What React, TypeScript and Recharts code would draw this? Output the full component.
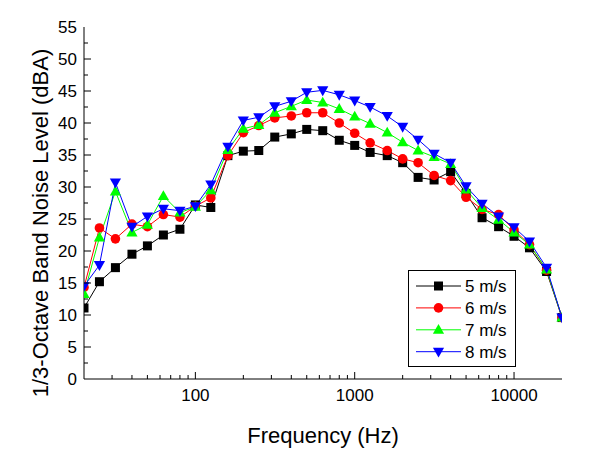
import React from "react";
import { LineChart, Line, XAxis, YAxis, Legend } from "recharts";

// 1/3-octave band centre frequencies (Hz)
const freqs = [
  20, 25, 31.5, 40, 50, 63, 80, 100, 125, 160, 200, 250, 315, 400, 500, 630,
  800, 1000, 1250, 1600, 2000, 2500, 3150, 4000, 5000, 6300, 8000, 10000,
  12500, 16000, 20000,
];

// band levels in dBA, per wind speed
const wind5 = [
  11.1, 15.2, 17.4, 19.5, 20.8, 22.5, 23.4, 27.2, 26.8, 34.9, 35.6, 35.7, 37.8,
  38.3, 39.0, 38.8, 37.3, 36.5, 35.4, 34.9, 33.8, 31.5, 31.1, 32.4, 29.0, 25.2,
  23.8, 22.3, 20.5, 16.8, 9.6,
];
const wind6 = [
  14.3, 23.6, 21.9, 24.2, 23.8, 25.7, 25.3, 27.0, 28.3, 34.9, 38.5, 39.6, 40.8,
  41.1, 41.6, 41.6, 40.0, 38.4, 36.9, 35.7, 34.4, 33.8, 31.8, 31.0, 28.4, 26.5,
  25.7, 23.3, 21.0, 17.0, 9.6,
];
const wind7 = [
  13.3, 22.1, 29.3, 22.9, 24.1, 28.6, 26.0, 26.9, 29.5, 35.8, 39.1, 39.7, 41.6,
  42.6, 43.6, 43.2, 42.2, 41.0, 39.9, 38.5, 37.0, 35.7, 34.7, 33.6, 29.6, 26.7,
  24.9, 22.9, 21.0, 17.1, 9.6,
];
const wind8 = [
  14.5, 17.8, 30.7, 23.8, 25.4, 26.6, 26.3, 27.0, 30.4, 36.3, 40.4, 40.9, 42.6,
  43.4, 44.8, 45.1, 44.4, 43.5, 42.5, 41.1, 39.4, 37.4, 35.2, 33.8, 30.1, 27.4,
  25.4, 23.7, 21.5, 17.4, 9.6,
];

const seriesKeys = ["w5", "w6", "w7", "w8"];
const seriesNames = ["5 m/s", "6 m/s", "7 m/s", "8 m/s"];
const seriesValues = [wind5, wind6, wind7, wind8];

const xTicks = [
  30, 40, 50, 60, 70, 80, 90, 100, 200, 300, 400, 500, 600, 700, 800, 900,
  1000, 2000, 3000, 4000, 5000, 6000, 7000, 8000, 9000, 10000,
];
const xMajor = [100, 1000, 10000];
const yTicks = [
  2.5, 5, 7.5, 10, 12.5, 15, 17.5, 20, 22.5, 25, 27.5, 30, 32.5, 35, 37.5, 40,
  42.5, 45, 47.5, 50, 52.5,
];
const yLabelTicks = [0, 5, 10, 15, 20, 25, 30, 35, 40, 45, 50, 55];

const colors = ["#000000", "#ff0000", "#00ff00", "#0000ff"];
const shapes = ["square", "circle", "up", "down"];
const FONT = "'Liberation Sans', Arial, sans-serif";

const data = freqs.map((f, i) => {
  const row: Record<string, number> = { f };
  seriesKeys.forEach((k, s) => (row[k] = seriesValues[s][i]));
  return row;
});

function Marker({ shape, cx, cy, color }: any) {
  if (shape === "square")
    return <rect x={cx - 4.5} y={cy - 4.5} width={9} height={9} fill={color} />;
  if (shape === "circle") return <circle cx={cx} cy={cy} r={4.8} fill={color} />;
  if (shape === "up")
    return (
      <polygon
        points={`${cx},${cy - 5.8} ${cx + 5.6},${cy + 4} ${cx - 5.6},${cy + 4}`}
        fill={color}
      />
    );
  return (
    <polygon
      points={`${cx},${cy + 5.8} ${cx + 5.6},${cy - 4} ${cx - 5.6},${cy - 4}`}
      fill={color}
    />
  );
}

const BottomTick = ({ x, y, payload }: any) => {
  const major = xMajor.includes(payload.value);
  return (
    <g>
      <line x1={x} x2={x} y1={y} y2={y - (major ? 7 : 4)} stroke="#000" />
      {major && (
        <text x={x} y={y + 22} textAnchor="middle" fontSize={17} fontFamily={FONT} fill="#000">
          {payload.value}
        </text>
      )}
    </g>
  );
};

const TopTick = ({ x, y, payload }: any) => {
  const major = xMajor.includes(payload.value);
  return <line x1={x} x2={x} y1={y} y2={y + (major ? 7 : 4)} stroke="#000" />;
};

const LeftTick = ({ x, y, payload }: any) => {
  const major = payload.value % 5 === 0;
  return (
    <g>
      {payload.value > 0 && payload.value < 55 && (
        <line x1={x} x2={x + (major ? 7 : 4)} y1={y} y2={y} stroke="#000" />
      )}
      {yLabelTicks.includes(payload.value) && (
        <text x={x - 7} y={y + 6} textAnchor="end" fontSize={17} fontFamily={FONT} fill="#000">
          {payload.value}
        </text>
      )}
    </g>
  );
};

const RightTick = ({ x, y, payload }: any) => {
  const major = payload.value % 5 === 0;
  return <line x1={x} x2={x - (major ? 7 : 4)} y1={y} y2={y} stroke="#000" />;
};

const renderLegend = () => (
  <svg width={108} height={97} style={{ display: "block" }}>
    <rect x={0.5} y={0.5} width={107} height={96} fill="#fff" stroke="#000" />
    {seriesNames.map((name, i) => {
      const cy = 16 + i * 21.9;
      return (
        <g key={name}>
          <line x1={8} x2={53} y1={cy} y2={cy} stroke={colors[i]} />
          <Marker shape={shapes[i]} cx={30.5} cy={cy} color={colors[i]} />
          <text x={57} y={cy + 6} fontSize={17} fontFamily={FONT} fill="#000">
            {name}
          </text>
        </g>
      );
    })}
  </svg>
);

export default function App() {
  return (
    <LineChart
      width={574}
      height={446}
      data={data}
      margin={{ top: 19, right: 20, bottom: 0, left: 0 }}
      style={{ fontFamily: FONT }}
    >
      <XAxis
        dataKey="f"
        type="number"
        scale="log"
        domain={[20, 20000]}
        allowDataOverflow
        ticks={xTicks}
        interval={0}
        tick={BottomTick}
        tickLine={false}
        tickSize={0}
        tickMargin={0}
        height={75}
        axisLine={{ stroke: "#000" }}
        label={{
          content: (p: any) => (
            <text
              x={p.viewBox.x + p.viewBox.width / 2}
              y={p.viewBox.y + 64}
              textAnchor="middle"
              fontSize={22}
              fontFamily={FONT}
              fill="#000"
            >
              Frequency (Hz)
            </text>
          ),
        }}
      />
      <XAxis
        xAxisId="top"
        orientation="top"
        dataKey="f"
        type="number"
        scale="log"
        domain={[20, 20000]}
        allowDataOverflow
        ticks={xTicks}
        interval={0}
        tick={TopTick}
        tickLine={false}
        tickSize={0}
        tickMargin={0}
        height={0}
        axisLine={{ stroke: "#000" }}
      />
      <YAxis
        type="number"
        domain={[0, 55]}
        ticks={[0, ...yTicks, 55]}
        interval={0}
        tick={LeftTick}
        tickLine={false}
        tickSize={0}
        tickMargin={0}
        width={76}
        axisLine={{ stroke: "#000" }}
        label={{
          content: () => (
            <text
              x={40}
              y={215}
              transform="rotate(-90, 40, 215)"
              textAnchor="middle"
              fontSize={22}
              fontFamily={FONT}
              fill="#000"
            >
              1/3-Octave Band Noise Level (dBA)
            </text>
          ),
        }}
      />
      <YAxis
        yAxisId="right"
        orientation="right"
        type="number"
        domain={[0, 55]}
        ticks={yTicks}
        interval={0}
        tick={RightTick}
        tickLine={false}
        tickSize={0}
        tickMargin={0}
        width={0}
        axisLine={{ stroke: "#000" }}
      />
      {seriesKeys.map((k, i) => (
        <Line
          key={k}
          dataKey={k}
          name={seriesNames[i]}
          type="linear"
          stroke={colors[i]}
          strokeWidth={1}
          isAnimationActive={false}
          activeDot={false}
          dot={(p: any) => (
            <Marker key={`${k}-${p.index}`} shape={shapes[i]} cx={p.cx} cy={p.cy} color={colors[i]} />
          )}
        />
      ))}
      <Legend
        layout="vertical"
        align="center"
        verticalAlign="middle"
        content={renderLegend}
        wrapperStyle={{ left: 400, top: 262, width: 108, height: 97 }}
      />
    </LineChart>
  );
}
